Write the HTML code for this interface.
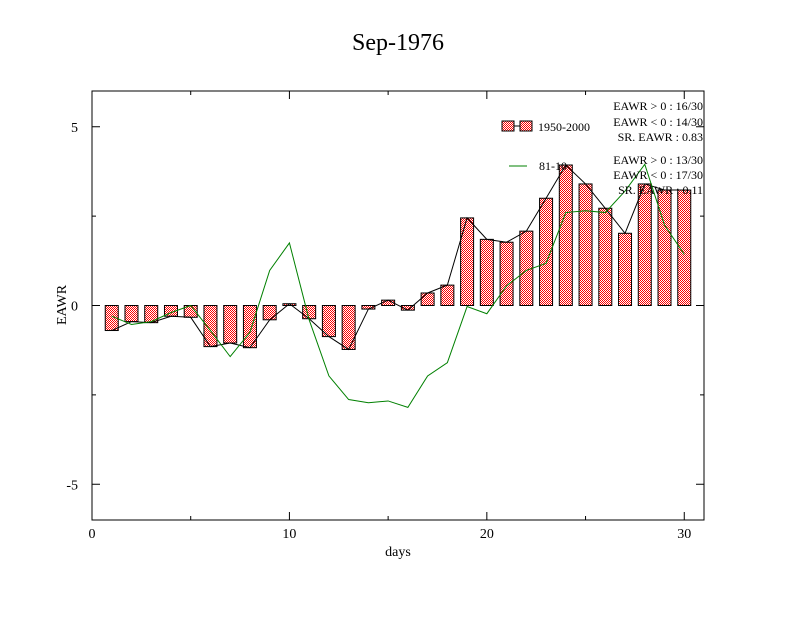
<!DOCTYPE html>
<html><head><meta charset="utf-8"><style>
body{margin:0;background:#fff;}
svg text{font-family:"Liberation Serif",serif;fill:#000;}
</style></head><body>
<svg width="792" height="612" viewBox="0 0 792 612">
<defs>
<pattern id="chk" width="2" height="2" patternUnits="userSpaceOnUse">
<rect width="2" height="2" fill="#fff"/><rect width="1" height="1" fill="#f00"/><rect x="1" y="1" width="1" height="1" fill="#f00"/>
</pattern>
</defs>
<text x="398" y="50" font-size="24" text-anchor="middle">Sep-1976</text>
<g id="plot"></g>
<rect x="92" y="91" width="612" height="429" fill="none" stroke="#000" stroke-width="1"/>
<g id="axes"></g>
<text x="398" y="556" font-size="14" text-anchor="middle">days</text>
<text x="66" y="305" font-size="14" text-anchor="middle" transform="rotate(-90 66 305)">EAWR</text>
<g>
<rect x="502" y="121" width="12" height="10" fill="url(#chk)" stroke="#000"/>
<line x1="514" y1="126" x2="520" y2="126" stroke="#000"/>
<rect x="520" y="121" width="12" height="10" fill="url(#chk)" stroke="#000"/>
<text x="538" y="131" font-size="12">1950-2000</text>
<line x1="509" y1="166" x2="527" y2="166" stroke="#008000"/>
<text x="539" y="170" font-size="12">81-10</text>
<text x="703" y="110" font-size="12" text-anchor="end">EAWR &gt; 0 : 16/30</text>
<text x="703" y="126" font-size="12" text-anchor="end">EAWR &lt; 0 : 14/30</text>
<text x="703" y="141" font-size="12" text-anchor="end">SR. EAWR :  0.83</text>
<text x="703" y="164" font-size="12" text-anchor="end">EAWR &gt; 0 : 13/30</text>
<text x="703" y="179" font-size="12" text-anchor="end">EAWR &lt; 0 : 17/30</text>
<text x="703" y="194" font-size="12" text-anchor="end">SR. EAWR :  0.11</text>
</g>
</svg>
<script>
const days=[1,2,3,4,5,6,7,8,9,10,11,12,13,14,15,16,17,18,19,20,21,22,23,24,25,26,27,28,29,30];
const bars1950=[-0.7,-0.45,-0.48,-0.3,-0.33,-1.15,-1.05,-1.18,-0.4,0.05,-0.37,-0.87,-1.23,-0.1,0.15,-0.13,0.35,0.57,2.45,1.85,1.77,2.08,3.0,3.93,3.4,2.72,2.02,3.4,3.23,3.23];
const line8110=[-0.3,-0.53,-0.45,-0.2,0,-0.7,-1.43,-0.75,0.98,1.75,-0.4,-1.97,-2.63,-2.72,-2.67,-2.85,-1.97,-1.6,-0.03,-0.23,0.55,0.98,1.18,2.6,2.65,2.6,3.2,3.95,2.25,1.43];
const xTicks=[0,10,20,30];
const yTicks=[-5,0,5];
const xMin=0,xMax=31,yMin=-6,yMax=6;
const L=92,R=704,T=91,B=520;
const X=v=>L+(v-xMin)/(xMax-xMin)*(R-L);
const Y=v=>B-(v-yMin)/(yMax-yMin)*(B-T);
const NS="http://www.w3.org/2000/svg";
const plot=document.getElementById('plot'),axes=document.getElementById('axes');
function mk(tag,attrs,parent){const e=document.createElementNS(NS,tag);for(const k in attrs)e.setAttribute(k,attrs[k]);parent.appendChild(e);return e;}
const bw=13;
days.forEach((d,i)=>{const v=bars1950[i];const y0=Y(0),y1=Y(v);
const r=mk('rect',{x:X(d)-bw/2,y:Math.min(y0,y1),width:bw,height:Math.max(1,Math.abs(y1-y0)),fill:'url(#chk)',stroke:'#000','stroke-width':1},plot);

});
const bl=mk('polyline',{points:days.map((d,i)=>X(d)+','+Y(bars1950[i])).join(' '),fill:'none',stroke:'#000','stroke-width':1},plot);


const gl=mk('polyline',{points:days.map((d,i)=>X(d)+','+Y(line8110[i])).join(' '),fill:'none',stroke:'#008000','stroke-width':1},plot);


xTicks.forEach(t=>{mk('line',{x1:X(t),x2:X(t),y1:B,y2:B-8,stroke:'#000'},axes);mk('line',{x1:X(t),x2:X(t),y1:T,y2:T+8,stroke:'#000'},axes);
const tx=mk('text',{x:X(t),y:B+18,'font-size':14,'text-anchor':'middle'},axes);tx.textContent=t;

});
for(let t=5;t<31;t+=10){mk('line',{x1:X(t),x2:X(t),y1:B,y2:B-4,stroke:'#000'},axes);mk('line',{x1:X(t),x2:X(t),y1:T,y2:T+4,stroke:'#000'},axes);}
yTicks.forEach(t=>{mk('line',{x1:L,x2:L+8,y1:Y(t),y2:Y(t),stroke:'#000'},axes);mk('line',{x1:R,x2:R-8,y1:Y(t),y2:Y(t),stroke:'#000'},axes);
const tx=mk('text',{x:L-14,y:Y(t)+5,'font-size':14,'text-anchor':'end'},axes);tx.textContent=t;

});
[-2.5,2.5].forEach(t=>{mk('line',{x1:L,x2:L+4,y1:Y(t),y2:Y(t),stroke:'#000'},axes);mk('line',{x1:R,x2:R-4,y1:Y(t),y2:Y(t),stroke:'#000'},axes);});
</script>
</body></html>
